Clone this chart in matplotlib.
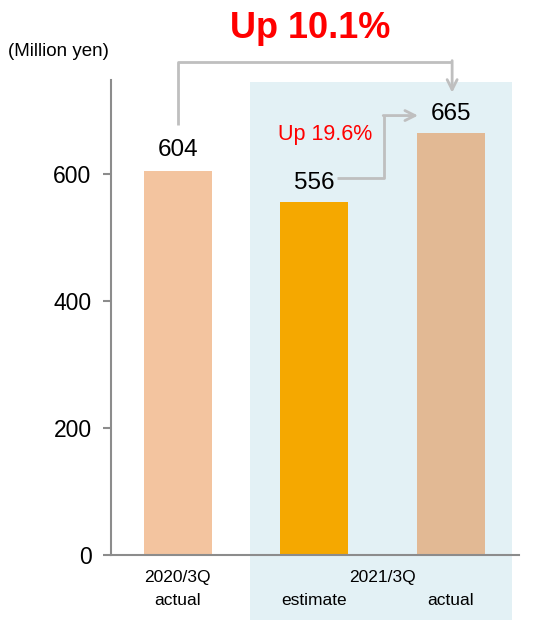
import matplotlib
matplotlib.use("Agg")
import matplotlib.pyplot as plt
from matplotlib.patches import Rectangle

plt.rcParams['font.family'] = ['Liberation Sans', 'DejaVu Sans']

# Data
periods = ["2020/3Q", "2021/3Q"]
bar_labels = ["actual", "estimate", "actual"]
values = [604, 556, 665]
bar_colors = ["#F3C49F", "#F5A800", "#E2B994"]
yticks = [0, 200, 400, 600]
growth_total = "Up 10.1%"
growth_vs_estimate = "Up 19.6%"
unit_label = "(Million yen)"

W, H = 537, 620
fig = plt.figure(figsize=(W / 100, H / 100), dpi=100)
ax = fig.add_axes([111 / W, (H - 555) / H, (519 - 111) / W, (555 - 80) / H])

x = list(range(len(values)))
ax.set_xlim(-0.49, 2.5)
ax.set_ylim(0, 748)

# shaded panel grouping the 2021 bars
panel = Rectangle((0.527, -102), 2.447 - 0.527, 745 + 102, facecolor="#E3F1F5",
                  edgecolor="none", zorder=0, clip_on=False)
ax.add_patch(panel)

ax.bar(x, values, width=0.5, color=bar_colors, zorder=2)

# value labels
offsets = [23, 19, 18]
for xi, v, off in zip(x, values, offsets):
    ax.text(xi, v + off + 11, str(v), ha="center", va="center", fontsize=17.5, color="black", zorder=5)

# axes styling
for s in ["top", "right"]:
    ax.spines[s].set_visible(False)
for s in ["left", "bottom"]:
    ax.spines[s].set_color("#8C8C8C")
    ax.spines[s].set_linewidth(1.5)
    ax.spines[s].set_zorder(4)
ax.set_yticks(yticks)
ax.tick_params(axis="y", length=6, width=1.5, color="#8C8C8C", labelsize=16.5, pad=8)
ax.set_xticks([])

# category labels
row1, row2 = -36, -71
ax.text(x[0], row1, periods[0], ha="center", va="center", fontsize=12.5, clip_on=False)
ax.text((x[1] + x[2]) / 2, row1, periods[1], ha="center", va="center", fontsize=12.5, clip_on=False)
for xi, lab in zip(x, bar_labels):
    ax.text(xi, row2, lab, ha="center", va="center", fontsize=12.5, clip_on=False)

arrow_c = "#BFBFBF"
# overall growth connector: from 2020 label up and over to the 2021 actual
top_y = max(values) + 112
y_start = values[0] + 73
y_end = values[2] + 63
ax.plot([x[0], x[0], x[2] + 0.01], [y_start, top_y, top_y], color=arrow_c, lw=2,
        clip_on=False, zorder=3, solid_capstyle="butt")
ax.annotate("", xy=(x[2] + 0.01, y_end), xytext=(x[2] + 0.01, top_y + 1.5),
            arrowprops=dict(arrowstyle="->", color=arrow_c, lw=2, mutation_scale=18,
                            shrinkA=0, shrinkB=0), annotation_clip=False, zorder=3)

# estimate -> actual connector
y_low = values[1] + 38
y_high = values[2] + 27
x_mid = 1.51
ax.plot([1.165, x_mid, x_mid], [y_low, y_low, y_high], color=arrow_c, lw=2,
        clip_on=False, zorder=3, solid_capstyle="butt")
ax.annotate("", xy=(1.76, y_high), xytext=(x_mid - 0.005, y_high),
            arrowprops=dict(arrowstyle="->", color=arrow_c, lw=2, mutation_scale=18,
                            shrinkA=0, shrinkB=0), annotation_clip=False, zorder=3)

# growth annotations
fig.text(310 / W, 1 - 29 / H, growth_total, ha="center", va="center", fontsize=26,
         fontweight="bold", color="#FF0000")
ax.text(1.08, y_high - 30, growth_vs_estimate, ha="center", va="center",
        fontsize=15.5, color="#FF0000", clip_on=False, zorder=5)
fig.text(58 / W, 1 - 52 / H, unit_label, ha="center", va="center", fontsize=13.5)

fig.savefig("out.png", dpi=100)
